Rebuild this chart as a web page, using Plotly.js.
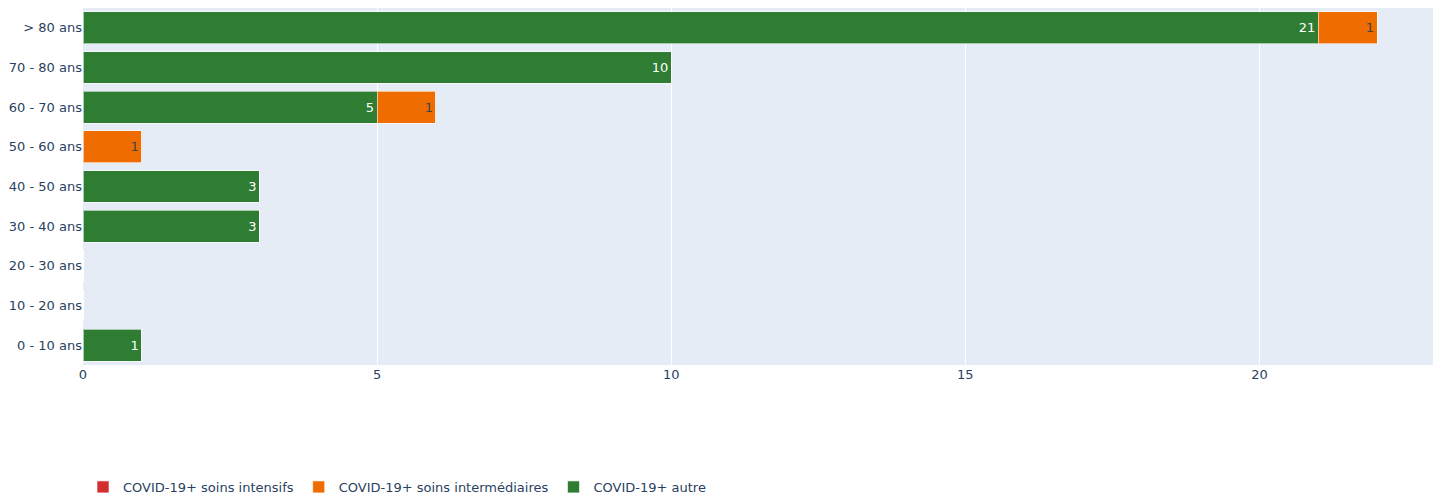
<!DOCTYPE html>
<html>
<head>
<meta charset="utf-8">
<script src="https://cdn.plot.ly/plotly-3.0.1.min.js"></script>
<style>html,body{margin:0;padding:0;background:#fff;}#chart{width:1433px;height:494px;}</style>
</head>
<body>
<div id="chart"></div>
<script>
const categories = ['0 - 10 ans','10 - 20 ans','20 - 30 ans','30 - 40 ans','40 - 50 ans','50 - 60 ans','60 - 70 ans','70 - 80 ans','> 80 ans'];
const autre = [1, 0, 0, 3, 3, 0, 5, 10, 21];
const intermediaires = [0, 0, 0, 0, 0, 1, 1, 0, 1];
const intensifs = [0, 0, 0, 0, 0, 0, 0, 0, 0];
const names = ['COVID-19+ autre', 'COVID-19+ soins intermédiaires', 'COVID-19+ soins intensifs'];
const colors = ['#2e7d32', '#ef6c00', '#d32f2f'];

const series = [autre, intermediaires, intensifs];
const traces = series.map((vals, i) => ({
  type: 'bar',
  orientation: 'h',
  name: names[i],
  y: categories,
  x: vals,
  text: vals.map(v => v > 0 ? String(v) : ''),
  textposition: 'inside',
  insidetextanchor: 'end',
  textfont: {family: 'DejaVu Sans, Verdana, sans-serif', size: 13},
  marker: {color: colors[i], line: {color: 'rgba(255,255,255,0.6)', width: 1}},
  hoverinfo: 'x+name'
}));

const layout = {
  width: 1433,
  height: 494,
  barmode: 'stack',
  paper_bgcolor: '#fff',
  plot_bgcolor: '#E5ECF6',
  font: {family: 'DejaVu Sans, Verdana, sans-serif', size: 13, color: '#2a3f5f'},
  margin: {l: 83, r: 0, t: 8, b: 129, autoexpand: false},
  xaxis: {range: [0, 22.95], gridcolor: 'white', zeroline: false, tickvals: [0,5,10,15,20], showline: false},
  yaxis: {type: 'category', showgrid: false, zeroline: false, ticks: ''},
  showlegend: true,
  legend: {orientation: 'h', x: 0, xanchor: 'left', y: -0.2996, yanchor: 'top', traceorder: 'reversed', font: {size: 13}}
};

Plotly.newPlot('chart', traces, layout, {displayModeBar: false, staticPlot: true});
</script>
</body>
</html>
